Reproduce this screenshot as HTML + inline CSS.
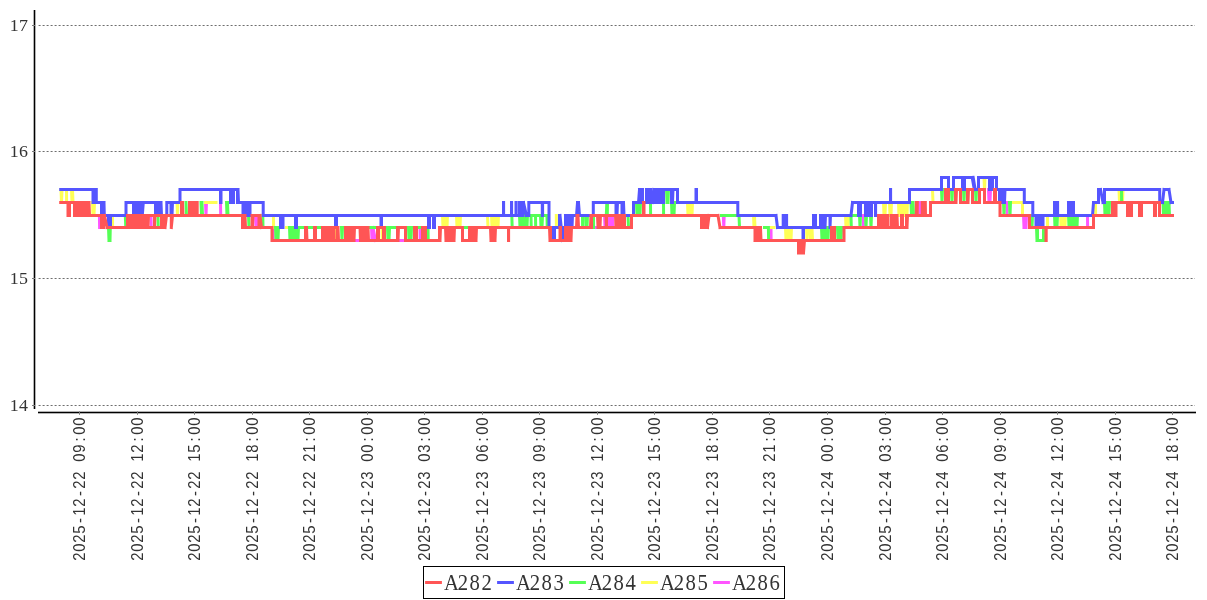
<!DOCTYPE html>
<html lang="en">
<head>
<meta charset="utf-8">
<title>Chart</title>
<style>
html,body{margin:0;padding:0;background:#fff;}
body{width:1207px;height:600px;overflow:hidden;}
svg{display:block;}
.yl{font-family:"Liberation Serif",serif;font-size:16px;fill:#333;}
.xl{font-family:"Liberation Sans",sans-serif;font-size:15.8px;fill:#333;}
.lg{font-family:"Liberation Serif",serif;font-size:23px;fill:#333;}
</style>
</head>
<body>
<svg width="1207" height="600" viewBox="0 0 1207 600">
<rect width="1207" height="600" fill="#fff"/>
<g stroke="#6e6e6e" stroke-width="1" stroke-dasharray="2 2" stroke-dashoffset="-0.6">
<line x1="38" x2="1195" y1="25.5" y2="25.5"/>
<line x1="38" x2="1195" y1="151.5" y2="151.5"/>
<line x1="38" x2="1195" y1="278.5" y2="278.5"/>
<line x1="38" x2="1195" y1="405.5" y2="405.5"/>
</g>
<path d="M99.4 215.5L99.6 227.5M151 215.5L151.2 227.5M205.5 202.5L206 215.5M206 215.5L206.5 202.5M220.5 202.5L220.7 215.5M255.5 215.5L256 227.5M256 227.5L256.5 215.5M256.5 215.5L257 227.5M273 227.5L273.2 240.5M356 240.5L358.5 240.5M371.5 227.5L372 240.5M372 240.5L372.5 227.5M372.5 227.5L373 240.5M373 240.5L373 227.5M373 227.5L375.5 240.5M375.5 240.5L375.6 240.5M400 240.5L404 240.5M420 227.5L420.2 240.5M594 227.5L597 227.5M604.5 215.5L605 227.5M605 227.5L605.5 215.5M605.5 215.5L606 227.5M608.5 215.5L609 227.5M609 227.5L609.5 215.5M609.5 215.5L610 227.5M610 227.5L610.5 215.5M610.5 215.5L611 227.5M611 227.5L611.5 215.5M611.5 215.5L612 227.5M612 227.5L612.5 215.5M612.5 215.5L613 227.5M723.3 215.5L723.8 227.5M723.8 227.5L724.2 215.5M771 227.5L771.1 240.5M863.2 215.5L863.3 227.5M919.5 202.5L920 215.5M988.5 189.5L989 202.5M989 202.5L989.5 189.5M989.5 189.5L990 202.5M990 202.5L990.5 189.5M1007 202.5L1007.1 215.5M1023.5 215.5L1024 227.5M1024 227.5L1024.5 215.5M1024.5 215.5L1025 227.5M1025 227.5L1025.5 215.5M1025.5 215.5L1026 227.5M1026 227.5L1026.5 215.5M1087.5 215.5L1087.6 227.5" fill="none" stroke="#ff55ff" stroke-width="3" stroke-linecap="square"/>
<path d="M61 189.5L61.5 202.5M61.5 202.5L62 189.5M66.5 189.5L66.6 202.5M71.5 189.5L72 202.5M72 202.5L72.5 189.5M72.5 189.5L73 202.5M92.5 202.5L93 215.5M93 215.5L93.5 202.5M93.5 202.5L94 215.5M94 215.5L94.5 202.5M112.5 215.5L112.6 227.5M177 202.5L177.5 215.5M177.5 215.5L178 202.5M205.5 202.5L216 202.5M273.4 215.5L273.6 227.5M286.5 227.5L286.6 227.5M335.9 227.5L336.1 240.5M382 227.5L382.2 240.5M442.5 215.5L443 227.5M443 227.5L443.5 215.5M443.5 215.5L444 227.5M444 227.5L444.5 215.5M444.5 215.5L445 227.5M445 227.5L445.5 215.5M445.5 215.5L446 227.5M446 227.5L446.5 215.5M446.5 215.5L447 227.5M447 227.5L447.5 215.5M456.5 215.5L457 227.5M457 227.5L457.5 215.5M457.5 215.5L458 227.5M458 227.5L458.5 215.5M458.5 215.5L459 227.5M459 227.5L459.5 215.5M459.5 215.5L460 227.5M460 227.5L460.5 215.5M487.5 215.5L488 227.5M491.5 215.5L492 227.5M492 227.5L492.5 215.5M492.5 215.5L493 227.5M493 227.5L493.5 215.5M493.5 215.5L494 227.5M494 227.5L494.5 215.5M494.5 215.5L495 227.5M495 227.5L495.5 215.5M495.5 215.5L496 227.5M496 227.5L496.5 215.5M496.5 215.5L497 227.5M497 227.5L497.5 215.5M497.5 215.5L498 227.5M498 227.5L498.5 215.5M556.3 215.5L556.4 227.5M687.5 202.5L688 215.5M688 215.5L688.5 202.5M688.5 202.5L689 215.5M689 215.5L689.5 202.5M689.5 202.5L690 215.5M690 215.5L690.5 202.5M690.5 202.5L691 215.5M691 215.5L691.5 202.5M691.5 202.5L692 215.5M692 215.5L692.5 202.5M753.5 215.5L754 227.5M754 227.5L754.5 215.5M754.5 215.5L755 227.5M771.5 227.5L774 227.5M785.5 227.5L786 240.5M786 240.5L786.5 227.5M786.5 227.5L787 240.5M787 240.5L787.5 227.5M787.5 227.5L788 240.5M788 240.5L788.5 227.5M788.5 227.5L789 240.5M789 240.5L789.5 227.5M789.5 227.5L790 240.5M790 240.5L790.5 227.5M790.5 227.5L791 240.5M791 240.5L791.5 227.5M806.5 227.5L807 240.5M807 240.5L807.5 227.5M810 227.5L810.5 240.5M810.5 240.5L811 227.5M811 227.5L811.5 240.5M811.5 240.5L812 227.5M812 227.5L812.5 240.5M845.5 215.5L846 227.5M846 227.5L846.5 215.5M846.5 215.5L847 227.5M847 227.5L847.5 215.5M847.5 215.5L848 227.5M848 227.5L848.5 215.5M883.5 202.5L884 215.5M884 215.5L884.5 202.5M884.5 202.5L885 215.5M885 215.5L885.5 202.5M889.5 202.5L890 215.5M890 215.5L890.5 202.5M890.5 202.5L891 215.5M891 215.5L891.5 202.5M898.5 202.5L899 215.5M899 215.5L899.5 202.5M899.5 202.5L900 215.5M900 215.5L900.5 202.5M900.5 202.5L901 215.5M901 215.5L901.5 202.5M901.5 202.5L902 215.5M902 215.5L902.5 202.5M902.5 202.5L903 215.5M903 215.5L903.5 202.5M903.5 202.5L904 215.5M904 215.5L904.5 202.5M904.5 202.5L905 215.5M905 215.5L905.5 202.5M905.5 202.5L906 215.5M906 215.5L906.5 202.5M906.5 202.5L907 215.5M907 215.5L907.5 202.5M932.5 189.5L933 202.5M984 177.5L984.5 189.5M984.5 189.5L985 177.5M1013.5 202.5L1022.5 202.5M1022.5 202.5L1022.5 215.5M1022.5 215.5L1022.6 215.5M1047.5 215.5L1047.6 227.5M1060.5 215.5L1061 227.5M1061 227.5L1061.5 215.5M1061.5 215.5L1062 227.5M1062 227.5L1062.5 215.5M1062.5 215.5L1063 227.5M1063 227.5L1063.5 215.5M1063.5 215.5L1064 227.5M1064 227.5L1064.5 215.5M1064.5 215.5L1065 227.5M1065 227.5L1065.5 215.5M1095.5 202.5L1095.6 215.5M1119 189.5L1119.5 202.5M1119.5 202.5L1120 189.5M1120 189.5L1120.5 202.5M1120.5 202.5L1121 189.5M1121 189.5L1121.5 202.5M1121.5 202.5L1122 189.5M1122 189.5L1122.5 202.5M1122.5 202.5L1123 189.5" fill="none" stroke="#ffff55" stroke-width="3" stroke-linecap="square"/>
<path d="M108.5 227.5L109 240.5M109 240.5L109.5 227.5M109.5 227.5L110 240.5M110 240.5L110.3 227.5M125.3 215.5L125.8 227.5M158 215.5L158.2 227.5M186 202.5L186.5 215.5M201 202.5L201.5 215.5M201.5 215.5L202 202.5M202 202.5L202.5 215.5M226.5 202.5L227 215.5M227 215.5L227.5 202.5M227.5 202.5L228 215.5M248.5 215.5L249 227.5M262.8 215.5L263 227.5M275.5 227.5L276 240.5M276 240.5L276.5 227.5M276.5 227.5L277 240.5M277 240.5L277.5 227.5M277.5 227.5L278 240.5M278 240.5L278.5 227.5M289.5 227.5L290 240.5M290 240.5L290.5 227.5M290.5 227.5L291 240.5M291 240.5L291.5 227.5M291.5 227.5L292 240.5M292 240.5L292.5 227.5M292.5 227.5L293 240.5M293 240.5L293.5 227.5M293.5 227.5L294 240.5M294 240.5L294.5 227.5M294.5 227.5L295 240.5M295 240.5L295.5 227.5M295.5 227.5L296 240.5M296 240.5L296.5 227.5M296.5 227.5L297 240.5M297 240.5L297.5 227.5M297.5 227.5L298 240.5M298 240.5L298.5 227.5M298.5 227.5L321 227.5M341.5 227.5L342 240.5M342 240.5L342.5 227.5M370 227.5L376 227.5M387.5 227.5L388 240.5M388 240.5L388.5 227.5M388.5 227.5L389 240.5M389 240.5L389.5 227.5M389.5 227.5L396 227.5M408.5 227.5L409 240.5M409 240.5L409.5 227.5M409.5 227.5L410 240.5M410 240.5L410.5 227.5M410.5 227.5L411 240.5M411 240.5L411.5 227.5M418 227.5L421 227.5M428 227.5L428.2 240.5M464 227.5L468 227.5M511.8 215.5L512.2 227.5M519.5 215.5L520 227.5M520 227.5L520.5 215.5M520.5 215.5L521 227.5M521 227.5L521.5 215.5M521.5 215.5L522 227.5M522 227.5L522.5 215.5M522.5 215.5L523 227.5M523 227.5L523.5 215.5M523.5 215.5L524 227.5M524 227.5L524.5 215.5M524.5 215.5L525 227.5M525 227.5L525.5 215.5M525.5 215.5L526 227.5M526 227.5L526.5 215.5M526.5 215.5L527 227.5M527 227.5L527.5 215.5M530 215.5L548 215.5M531 215.5L531.2 227.5M535.5 215.5L535.7 227.5M540.5 215.5L541 227.5M541 227.5L541.5 215.5M541.5 215.5L542 227.5M542 227.5L542.5 215.5M547 215.5L547.2 227.5M582.5 215.5L582.6 227.5M585.5 215.5L586 227.5M586 227.5L586.5 215.5M586.5 215.5L587 227.5M587 227.5L587.5 215.5M593.5 215.5L593.6 227.5M606.3 215.5L606.8 202.5M606.8 202.5L607.3 215.5M607.3 215.5L607.5 202.5M628 215.5L628.5 227.5M636.5 202.5L637 215.5M637 215.5L637.5 202.5M637.5 202.5L638 215.5M638 215.5L638.5 202.5M638.5 202.5L639 215.5M639 215.5L639.5 202.5M639.5 202.5L640 215.5M640 215.5L640.5 202.5M650.5 202.5L650.6 215.5M663.5 202.5L663.6 215.5M666.5 189.5L667 202.5M667 202.5L667.5 189.5M667.5 189.5L668 202.5M668 202.5L668.5 189.5M671.5 202.5L672 215.5M672 215.5L672.5 202.5M672.5 202.5L673 215.5M673 215.5L673.5 202.5M673.5 202.5L674 215.5M674 215.5L674.5 202.5M721.5 215.5L736 215.5M739 215.5L739.5 227.5M764.5 227.5L768.4 227.5M768.4 227.5L768.6 240.5M821.5 227.5L822 240.5M822 240.5L822.5 227.5M822.5 227.5L823 240.5M823 240.5L823.5 227.5M823.5 227.5L824 240.5M824 240.5L824.5 227.5M824.5 227.5L825 240.5M825 240.5L825.5 227.5M825.5 227.5L826 240.5M826 240.5L826.5 227.5M826.5 227.5L827 240.5M827 240.5L827.5 227.5M827.5 227.5L828 240.5M828 240.5L828.5 227.5M837.5 227.5L838 240.5M838 240.5L838.5 227.5M838.5 227.5L839 240.5M839 240.5L839.5 227.5M839.5 227.5L840 240.5M840 240.5L840.5 227.5M840.5 227.5L841 240.5M841 240.5L841.5 227.5M850 215.5L858 215.5M851 215.5L851.3 227.5M859.5 215.5L860 227.5M860 227.5L860.5 215.5M865.5 215.5L866 227.5M866 227.5L866.5 215.5M870.5 215.5L871 227.5M871 227.5L871.5 215.5M911 202.5L911.5 215.5M911.5 215.5L912 202.5M912 202.5L912.5 215.5M912.5 215.5L913 202.5M913 202.5L913.5 215.5M941.5 189.5L942 202.5M942 202.5L942.5 189.5M951.5 189.5L952 202.5M952 202.5L952.5 189.5M963.5 189.5L964 202.5M964 202.5L964.5 189.5M975.5 189.5L976 202.5M976 202.5L976.5 189.5M1003.5 202.5L1004 215.5M1004 215.5L1004.5 202.5M1009.5 202.5L1010 215.5M1010 215.5L1010.5 202.5M1031.5 215.5L1032 227.5M1032 227.5L1032.5 215.5M1036.5 227.5L1037 240.5M1037 240.5L1037.5 227.5M1037.5 227.5L1037.5 240.5M1037.5 240.5L1043.5 240.5M1043.5 240.5L1043.5 227.5M1043.5 227.5L1043.6 227.5M1054.5 215.5L1055 227.5M1055 227.5L1055.5 215.5M1055.5 215.5L1056 227.5M1056 227.5L1056.5 215.5M1056.5 215.5L1057 227.5M1057 227.5L1057.5 215.5M1068.5 215.5L1069 227.5M1069 227.5L1069.5 215.5M1069.5 215.5L1070 227.5M1070 227.5L1070.5 215.5M1070.5 215.5L1071 227.5M1071 227.5L1071.5 215.5M1071.5 215.5L1072 227.5M1072 227.5L1072.5 215.5M1072.5 215.5L1073 227.5M1073 227.5L1073.5 215.5M1073.5 215.5L1074 227.5M1074 227.5L1074.5 215.5M1074.5 215.5L1075 227.5M1075 227.5L1075.5 215.5M1075.5 215.5L1076 227.5M1076 227.5L1076.5 215.5M1076.5 215.5L1077 227.5M1077 227.5L1077.5 215.5M1104.5 202.5L1105 215.5M1105 215.5L1105.5 202.5M1105.5 202.5L1106 215.5M1106 215.5L1106.5 202.5M1106.5 202.5L1107 215.5M1107 215.5L1107.5 202.5M1107.5 202.5L1108 215.5M1108 215.5L1108.5 202.5M1108.5 202.5L1109 215.5M1109 215.5L1109.5 202.5M1121.5 189.5L1121.6 202.5M1163 202.5L1163.5 215.5M1163.5 215.5L1164 202.5M1164 202.5L1164.5 215.5M1164.5 215.5L1165 202.5M1165 202.5L1165.5 215.5M1165.5 215.5L1166 202.5M1166 202.5L1166.5 215.5M1166.5 215.5L1167 202.5M1167 202.5L1167.5 215.5M1167.5 215.5L1168 202.5M1168 202.5L1168.5 215.5M1168.5 215.5L1169 202.5M1169 202.5L1169.5 215.5" fill="none" stroke="#55ff55" stroke-width="3" stroke-linecap="square"/>
<path d="M60.7 189.5L93 189.5M93 189.5L93 202.5M93 202.5L93.5 189.5M93.5 189.5L94 202.5M94 202.5L94.5 189.5M94.5 189.5L95 202.5M95 202.5L95.5 189.5M95.5 189.5L96 202.5M96 202.5L96.3 189.5M96.3 189.5L96.3 202.5M96.3 202.5L101.5 202.5M101.5 202.5L101.5 215.5M101.5 215.5L102 202.5M102 202.5L102.5 215.5M102.5 215.5L103 202.5M103 202.5L103.5 215.5M103.5 215.5L104 202.5M104 202.5L104.3 215.5M104.3 215.5L108.5 215.5M108.5 215.5L108.5 227.5M108.5 227.5L110.5 227.5M110.5 227.5L110.5 215.5M110.5 215.5L126 215.5M126 215.5L126 202.5M126 202.5L133.5 202.5M133.5 202.5L133.5 215.5M133.5 215.5L134 202.5M134 202.5L134.5 215.5M134.5 215.5L135 202.5M135 202.5L135.5 215.5M135.5 215.5L136 202.5M136 202.5L136.5 215.5M136.5 215.5L137 202.5M137 202.5L137.5 215.5M137.5 215.5L138 202.5M138 202.5L138.5 215.5M138.5 215.5L139 202.5M139 202.5L139.5 215.5M139.5 215.5L140 202.5M140 202.5L140.5 215.5M140.5 215.5L141 202.5M141 202.5L141.5 215.5M141.5 215.5L142 202.5M142 202.5L142.3 215.5M142.3 215.5L143.3 202.5M143.3 202.5L155.5 202.5M155.5 202.5L155.5 215.5M155.5 215.5L156 202.5M156 202.5L156.5 215.5M156.5 215.5L157 202.5M157 202.5L157.5 215.5M157.5 215.5L158 202.5M158 202.5L158.5 215.5M158.5 215.5L159 202.5M159 202.5L159.5 215.5M159.5 215.5L160 202.5M160 202.5L160.5 215.5M160.5 215.5L161 202.5M161 202.5L161.5 215.5M161.5 215.5L166.8 215.5M166.8 215.5L166.8 202.5M166.8 202.5L171 202.5M171 202.5L171 215.5M171 215.5L171.5 202.5M171.5 202.5L172 215.5M172 215.5L172.5 202.5M172.5 202.5L180 202.5M180 202.5L180 189.5M180 189.5L220.5 189.5M220.5 189.5L220.5 202.5M220.5 202.5L221 202.5M221 202.5L221 189.5M221 189.5L230.5 189.5M230.5 189.5L230.5 202.5M230.5 202.5L231 189.5M231 189.5L231.5 202.5M231.5 202.5L232 189.5M232 189.5L232.5 202.5M232.5 202.5L233 189.5M233 189.5L233.5 202.5M233.5 202.5L233.5 189.5M233.5 189.5L237.5 189.5M237.5 189.5L237.5 202.5M237.5 202.5L238 189.5M238 189.5L238.5 202.5M238.5 202.5L243 202.5M243 202.5L243 215.5M243 215.5L243.5 202.5M243.5 202.5L244 215.5M244 215.5L244.5 202.5M244.5 202.5L245 215.5M245 215.5L245.5 202.5M245.5 202.5L246 215.5M246 215.5L246.5 202.5M246.5 202.5L247 215.5M247 215.5L247.5 202.5M247.5 202.5L248 215.5M248 215.5L248.5 202.5M248.5 202.5L249 215.5M249 215.5L249.5 202.5M249.5 202.5L250 215.5M250 215.5L250 202.5M250 202.5L263.2 202.5M263.2 202.5L263.2 215.5M263.2 215.5L280.5 215.5M280.5 215.5L280.5 227.5M280.5 227.5L283 227.5M283 227.5L283 215.5M283 215.5L295.5 215.5M295.5 215.5L295.5 227.5M295.5 227.5L296.5 227.5M296.5 227.5L296.5 215.5M296.5 215.5L335.5 215.5M335.5 215.5L335.5 227.5M335.5 227.5L336.5 227.5M336.5 227.5L336.5 215.5M336.5 215.5L381 215.5M381 215.5L381 227.5M381 227.5L381.5 227.5M381.5 227.5L381.5 215.5M381.5 215.5L428.5 215.5M428.5 215.5L428.5 227.5M428.5 227.5L429.5 227.5M429.5 227.5L429.5 215.5M429.5 215.5L433.5 215.5M433.5 215.5L433.5 227.5M433.5 227.5L434.5 227.5M434.5 227.5L434.5 215.5M434.5 215.5L503.5 215.5M503.5 215.5L503.5 202.5M503.5 202.5L503.6 202.5M503.6 202.5L503.6 215.5M503.6 215.5L511.5 215.5M511.5 215.5L511.5 202.5M511.5 202.5L511.6 202.5M511.6 202.5L511.6 215.5M511.6 215.5L516 215.5M516 215.5L516 202.5M516 202.5L516.2 202.5M516.2 202.5L516.2 215.5M516.2 215.5L519.5 215.5M519.5 215.5L519.5 202.5M519.5 202.5L520 215.5M520 215.5L520.5 202.5M520.5 202.5L521 215.5M521 215.5L521.5 202.5M521.5 202.5L522 215.5M522 215.5L522.5 202.5M522.5 202.5L523 215.5M523 215.5L523.5 202.5M523.5 202.5L526.5 215.5M526.5 215.5L528.8 215.5M528.8 215.5L528.8 202.5M528.8 202.5L542.3 202.5M542.3 202.5L542.3 215.5M542.3 215.5L542.6 215.5M542.6 215.5L542.6 202.5M542.6 202.5L549 202.5M549 202.5L549 227.5M549 227.5L553.5 227.5M553.5 227.5L553.5 240.5M553.5 240.5L554.5 240.5M554.5 240.5L554.5 227.5M554.5 227.5L559.5 227.5M559.5 227.5L559.5 215.5M559.5 215.5L560 215.5M560 215.5L562.5 240.5M562.5 240.5L563 240.5M563 240.5L563 227.5M563 227.5L565.5 227.5M565.5 227.5L565.5 215.5M565.5 215.5L566 227.5M566 227.5L566.5 215.5M566.5 215.5L567 227.5M567 227.5L567.5 215.5M567.5 215.5L568 227.5M568 227.5L568.5 215.5M568.5 215.5L569 227.5M569 227.5L569.5 215.5M569.5 215.5L570 227.5M570 227.5L570.5 215.5M570.5 215.5L571 227.5M571 227.5L571.5 215.5M571.5 215.5L572 227.5M572 227.5L572.5 215.5M572.5 215.5L576.5 215.5M576.5 215.5L577.5 202.5M577.5 202.5L578.5 202.5M578.5 202.5L579.5 215.5M579.5 215.5L593.3 215.5M593.3 215.5L593.3 202.5M593.3 202.5L616 202.5M616 202.5L616 215.5M616 215.5L616.5 202.5M616.5 202.5L617 215.5M617 215.5L617.5 202.5M617.5 202.5L619.5 202.5M619.5 202.5L622 202.5M622 202.5L622 215.5M622 215.5L622.5 202.5M622.5 202.5L623 215.5M623 215.5L623.5 202.5M623.5 202.5L624 215.5M624 215.5L633.5 215.5M633.5 215.5L633.5 202.5M633.5 202.5L638.5 202.5M638.5 202.5L639.5 189.5M639.5 189.5L640 202.5M640 202.5L640.5 189.5M640.5 189.5L641 202.5M641 202.5L641.5 189.5M641.5 189.5L642 202.5M642 202.5L642.5 189.5M642.5 189.5L642.5 202.5M642.5 202.5L646.5 202.5M646.5 202.5L646.5 189.5M646.5 189.5L647 202.5M647 202.5L647.5 189.5M647.5 189.5L648 202.5M648 202.5L648.5 189.5M648.5 189.5L649 202.5M649 202.5L649.5 189.5M649.5 189.5L650 202.5M650 202.5L650.5 189.5M650.5 189.5L650.5 202.5M650.5 202.5L652.2 202.5M652.2 202.5L653.7 189.5M653.7 189.5L654 189.5M654 189.5L654.5 202.5M654.5 202.5L655 189.5M655 189.5L655.5 202.5M655.5 202.5L656 189.5M656 189.5L656.5 202.5M656.5 202.5L657 189.5M657 189.5L657.5 202.5M657.5 202.5L658 189.5M658 189.5L658.5 202.5M658.5 202.5L659 189.5M659 189.5L659.5 202.5M659.5 202.5L660 189.5M660 189.5L660.5 202.5M660.5 202.5L661 189.5M661 189.5L661.5 202.5M661.5 202.5L662 189.5M662 189.5L662.5 202.5M662.5 202.5L663 189.5M663 189.5L663.5 202.5M663.5 202.5L663.5 189.5M663.5 189.5L671.5 189.5M671.5 189.5L671.5 202.5M671.5 202.5L672 189.5M672 189.5L672.5 202.5M672.5 202.5L673 189.5M673 189.5L677.5 189.5M677.5 189.5L677.5 202.5M677.5 202.5L696 202.5M696 202.5L696 189.5M696 189.5L696.5 189.5M696.5 189.5L696.5 202.5M696.5 202.5L737.8 202.5M737.8 202.5L737.8 215.5M737.8 215.5L776 215.5M776 215.5L777.5 227.5M777.5 227.5L783.2 227.5M783.2 227.5L783.2 215.5M783.2 215.5L783.4 215.5M783.4 215.5L783.4 227.5M783.4 227.5L786.4 227.5M786.4 227.5L786.4 215.5M786.4 215.5L786.6 215.5M786.6 215.5L786.6 227.5M786.6 227.5L803 227.5M803 227.5L803 240.5M803 240.5L803.5 240.5M803.5 240.5L803.5 227.5M803.5 227.5L813.5 227.5M813.5 227.5L813.5 215.5M813.5 215.5L814 227.5M814 227.5L814.5 215.5M814.5 215.5L815 227.5M815 227.5L815.5 215.5M815.5 215.5L815.5 227.5M815.5 227.5L820.5 227.5M820.5 227.5L820.5 215.5M820.5 215.5L821 227.5M821 227.5L821.5 215.5M821.5 215.5L822 227.5M822 227.5L822.5 215.5M822.5 215.5L823 227.5M823 227.5L823.5 215.5M823.5 215.5L824 227.5M824 227.5L824.5 215.5M824.5 215.5L825 227.5M825 227.5L825.5 215.5M825.5 215.5L830 215.5M830 215.5L830 227.5M830 227.5L830.5 215.5M830.5 215.5L851 215.5M851 215.5L852.5 202.5M852.5 202.5L858.5 202.5M858.5 202.5L858.5 215.5M858.5 215.5L859 202.5M859 202.5L859.5 215.5M859.5 215.5L860 202.5M860 202.5L860.5 215.5M860.5 215.5L860.5 202.5M860.5 202.5L865.5 202.5M865.5 202.5L865.5 215.5M865.5 215.5L866 202.5M866 202.5L866.5 215.5M866.5 215.5L867 202.5M867 202.5L867.5 215.5M867.5 215.5L868 202.5M868 202.5L868.5 215.5M868.5 215.5L869 202.5M869 202.5L869.5 215.5M869.5 215.5L870 202.5M870 202.5L870.5 215.5M870.5 215.5L871 202.5M871 202.5L871.5 215.5M871.5 215.5L871.5 202.5M871.5 202.5L875.5 202.5M875.5 202.5L875.5 215.5M875.5 215.5L875.6 215.5M875.6 215.5L875.6 202.5M875.6 202.5L890.5 202.5M890.5 202.5L890.5 189.5M890.5 189.5L890.6 189.5M890.6 189.5L890.6 202.5M890.6 202.5L909.5 202.5M909.5 202.5L909.5 189.5M909.5 189.5L941.5 189.5M941.5 189.5L941.5 177.5M941.5 177.5L948.5 177.5M948.5 177.5L948.5 189.5M948.5 189.5L953.5 189.5M953.5 189.5L953.5 177.5M953.5 177.5L962.5 177.5M962.5 177.5L962.5 189.5M962.5 189.5L963 177.5M963 177.5L963.5 189.5M963.5 189.5L964 177.5M964 177.5L964.5 189.5M964.5 189.5L964.5 177.5M964.5 177.5L972.2 177.5M972.2 177.5L974.3 189.5M974.3 189.5L978.5 189.5M978.5 189.5L978.5 177.5M978.5 177.5L989.5 177.5M989.5 177.5L989.5 189.5M989.5 189.5L992.5 189.5M992.5 189.5L992.5 177.5M992.5 177.5L996.5 177.5M996.5 177.5L996.5 189.5M996.5 189.5L999.5 189.5M999.5 189.5L999.5 202.5M999.5 202.5L1000 189.5M1000 189.5L1000.5 202.5M1000.5 202.5L1001 189.5M1001 189.5L1001.5 202.5M1001.5 202.5L1002 189.5M1002 189.5L1002.5 202.5M1002.5 202.5L1003 189.5M1003 189.5L1003.5 202.5M1003.5 202.5L1004 189.5M1004 189.5L1004.5 202.5M1004.5 202.5L1005 189.5M1005 189.5L1024.3 189.5M1024.3 189.5L1024.3 202.5M1024.3 202.5L1032.8 202.5M1032.8 202.5L1032.8 215.5M1032.8 215.5L1036 215.5M1036 215.5L1036 227.5M1036 227.5L1036.5 215.5M1036.5 215.5L1037 227.5M1037 227.5L1037.5 215.5M1037.5 215.5L1038 227.5M1038 227.5L1038.5 215.5M1038.5 215.5L1039 227.5M1039 227.5L1039.5 215.5M1039.5 215.5L1040 227.5M1040 227.5L1040.5 215.5M1040.5 215.5L1041 227.5M1041 227.5L1041.5 215.5M1041.5 215.5L1042 227.5M1042 227.5L1042.5 215.5M1042.5 215.5L1043 227.5M1043 227.5L1043 215.5M1043 215.5L1054.5 215.5M1054.5 215.5L1054.5 202.5M1054.5 202.5L1054.6 202.5M1054.6 202.5L1054.6 215.5M1054.6 215.5L1057.5 215.5M1057.5 215.5L1057.5 202.5M1057.5 202.5L1057.6 202.5M1057.6 202.5L1057.6 215.5M1057.6 215.5L1068.5 215.5M1068.5 215.5L1068.5 202.5M1068.5 202.5L1069 215.5M1069 215.5L1069.5 202.5M1069.5 202.5L1070 215.5M1070 215.5L1070.5 202.5M1070.5 202.5L1071 215.5M1071 215.5L1071.5 202.5M1071.5 202.5L1072 215.5M1072 215.5L1072.5 202.5M1072.5 202.5L1073 215.5M1073 215.5L1073.5 202.5M1073.5 202.5L1073.5 215.5M1073.5 215.5L1092.5 215.5M1092.5 215.5L1093.5 202.5M1093.5 202.5L1098.5 202.5M1098.5 202.5L1098.5 189.5M1098.5 189.5L1100.5 189.5M1100.5 189.5L1103 202.5M1103 202.5L1104.5 202.5M1104.5 202.5L1104.5 189.5M1104.5 189.5L1159.7 189.5M1159.7 189.5L1159.7 202.5M1159.7 202.5L1162.5 202.5M1162.5 202.5L1164 189.5M1164 189.5L1169 189.5M1169 189.5L1171 202.5M1171 202.5L1172.5 202.5M973.2 177.5L975.2 189.5M975.2 189.5L975.3 189.5" fill="none" stroke="#5555ff" stroke-width="3" stroke-linecap="square"/>
<path d="M60.7 202.5L68 202.5M68 202.5L68 215.5M68 215.5L69.5 215.5M69.5 215.5L69.5 202.5M69.5 202.5L74.5 202.5M74.5 202.5L74.5 215.5M74.5 215.5L75 202.5M75 202.5L75.5 215.5M75.5 215.5L76 202.5M76 202.5L76.5 215.5M76.5 215.5L77 202.5M77 202.5L77.5 215.5M77.5 215.5L78 202.5M78 202.5L78.5 215.5M78.5 215.5L79 202.5M79 202.5L79.5 215.5M79.5 215.5L80 202.5M80 202.5L80.5 215.5M80.5 215.5L81 202.5M81 202.5L81.5 215.5M81.5 215.5L82 202.5M82 202.5L82.5 215.5M82.5 215.5L83 202.5M83 202.5L83.5 215.5M83.5 215.5L84 202.5M84 202.5L84.5 215.5M84.5 215.5L85 202.5M85 202.5L85.5 215.5M85.5 215.5L86 202.5M86 202.5L86.5 215.5M86.5 215.5L87 202.5M87 202.5L87.5 215.5M87.5 215.5L88 202.5M88 202.5L88.5 215.5M88.5 215.5L89 202.5M89 202.5L89.5 215.5M89.5 215.5L101.5 215.5M101.5 215.5L101.5 227.5M101.5 227.5L102 215.5M102 215.5L102.5 227.5M102.5 227.5L103 215.5M103 215.5L103.5 227.5M103.5 227.5L103.5 215.5M103.5 215.5L104.5 215.5M104.5 215.5L107 227.5M107 227.5L127.5 227.5M127.5 227.5L127.5 215.5M127.5 215.5L128 227.5M128 227.5L128.5 215.5M128.5 215.5L129 227.5M129 227.5L129.5 215.5M129.5 215.5L130 227.5M130 227.5L130.5 215.5M130.5 215.5L131 227.5M131 227.5L131.5 215.5M131.5 215.5L132 227.5M132 227.5L132.5 215.5M132.5 215.5L133 227.5M133 227.5L133.5 215.5M133.5 215.5L134 227.5M134 227.5L134.5 215.5M134.5 215.5L135 227.5M135 227.5L135.5 215.5M135.5 215.5L136 227.5M136 227.5L136.5 215.5M136.5 215.5L137 227.5M137 227.5L137.5 215.5M137.5 215.5L138 227.5M138 227.5L138.5 215.5M138.5 215.5L139 227.5M139 227.5L139.5 215.5M139.5 215.5L140 227.5M140 227.5L140.5 215.5M140.5 215.5L141 227.5M141 227.5L141.5 215.5M141.5 215.5L142 227.5M142 227.5L142.5 215.5M142.5 215.5L143 227.5M143 227.5L143.5 215.5M143.5 215.5L144 227.5M144 227.5L144.5 215.5M144.5 215.5L145 227.5M145 227.5L145.5 215.5M145.5 215.5L146 227.5M146 227.5L146.5 215.5M146.5 215.5L147 227.5M147 227.5L147.5 215.5M147.5 215.5L148 227.5M148 227.5L148.5 215.5M148.5 215.5L154.5 215.5M154.5 215.5L154.5 227.5M154.5 227.5L155 215.5M155 215.5L161.5 215.5M161.5 215.5L161.5 227.5M161.5 227.5L162 215.5M162 215.5L162.5 227.5M162.5 227.5L163 215.5M163 215.5L163.5 227.5M163.5 227.5L164 215.5M164 215.5L164.5 227.5M164.5 227.5L165 215.5M165 215.5L165 227.5M165 227.5L166.5 215.5M166.5 215.5L171.3 215.5M171.3 215.5L171.3 227.5M171.3 227.5L172.5 215.5M172.5 215.5L181.5 215.5M181.5 215.5L181.5 202.5M181.5 202.5L182 215.5M182 215.5L182.5 202.5M182.5 202.5L183 215.5M183 215.5L189.5 215.5M189.5 215.5L189.5 202.5M189.5 202.5L190 215.5M190 215.5L190.5 202.5M190.5 202.5L191 215.5M191 215.5L191.5 202.5M191.5 202.5L192 215.5M192 215.5L192.5 202.5M192.5 202.5L193 215.5M193 215.5L193.5 202.5M193.5 202.5L194 215.5M194 215.5L194.5 202.5M194.5 202.5L195 215.5M195 215.5L195.5 202.5M195.5 202.5L196 215.5M196 215.5L196.5 202.5M196.5 202.5L197 215.5M197 215.5L197.2 202.5M197.2 202.5L197.2 215.5M197.2 215.5L242.5 215.5M242.5 215.5L242.5 227.5M242.5 227.5L243 215.5M243 215.5L243.5 227.5M243.5 227.5L244 215.5M244 215.5L244.5 227.5M244.5 227.5L245 215.5M245 215.5L245.5 227.5M245.5 227.5L252 227.5M252 227.5L252 215.5M252 215.5L252.5 227.5M252.5 227.5L253 215.5M253 215.5L259 215.5M259 215.5L259 227.5M259 227.5L259.5 215.5M259.5 215.5L260 227.5M260 227.5L260 215.5M260 215.5L261.5 227.5M261.5 227.5L272 227.5M272 227.5L272 240.5M272 240.5L305.5 240.5M305.5 240.5L305.5 227.5M305.5 227.5L306 240.5M306 240.5L306.5 227.5M306.5 227.5L307 240.5M307 240.5L314.5 240.5M314.5 240.5L314.5 227.5M314.5 227.5L315 240.5M315 240.5L315.5 227.5M315.5 227.5L315.5 240.5M315.5 240.5L322.5 240.5M322.5 240.5L322.5 227.5M322.5 227.5L323 240.5M323 240.5L323.5 227.5M323.5 227.5L324 240.5M324 240.5L324.5 227.5M324.5 227.5L325 240.5M325 240.5L325.5 227.5M325.5 227.5L326 240.5M326 240.5L326.5 227.5M326.5 227.5L327 240.5M327 240.5L327.5 227.5M327.5 227.5L328 240.5M328 240.5L328.5 227.5M328.5 227.5L329 240.5M329 240.5L329.5 227.5M329.5 227.5L330 240.5M330 240.5L330.5 227.5M330.5 227.5L331 240.5M331 240.5L331.5 227.5M331.5 227.5L332 240.5M332 240.5L332.5 227.5M332.5 227.5L333 240.5M333 240.5L333.5 227.5M333.5 227.5L333.7 240.5M333.7 240.5L337 240.5M337 240.5L337 227.5M337 227.5L337.5 240.5M337.5 240.5L338 227.5M338 227.5L338.5 240.5M338.5 240.5L345.5 240.5M345.5 240.5L345.5 227.5M345.5 227.5L346 240.5M346 240.5L346.5 227.5M346.5 227.5L347 240.5M347 240.5L347.5 227.5M347.5 227.5L348 240.5M348 240.5L348.5 227.5M348.5 227.5L349 240.5M349 240.5L349.5 227.5M349.5 227.5L350 240.5M350 240.5L350.5 227.5M350.5 227.5L351 240.5M351 240.5L351.5 227.5M351.5 227.5L352 240.5M352 240.5L352.5 227.5M352.5 227.5L353 240.5M353 240.5L353.5 227.5M353.5 227.5L354 240.5M354 240.5L354.5 227.5M354.5 227.5L360 227.5M360 227.5L360.5 240.5M360.5 240.5L361 227.5M361 227.5L361.5 240.5M361.5 240.5L362 227.5M362 227.5L362.5 240.5M362.5 240.5L363 227.5M363 227.5L363.5 240.5M363.5 240.5L364 227.5M364 227.5L364.5 240.5M364.5 240.5L365 227.5M365 227.5L365.5 240.5M365.5 240.5L366 227.5M366 227.5L366.5 240.5M366.5 240.5L367 227.5M367 227.5L367.5 240.5M367.5 240.5L368 227.5M368 227.5L368.5 240.5M368.5 240.5L377.5 240.5M377.5 240.5L377.5 227.5M377.5 227.5L378 240.5M378 240.5L378.5 227.5M378.5 227.5L378.5 240.5M378.5 240.5L383.5 240.5M383.5 240.5L383.5 227.5M383.5 227.5L384 240.5M384 240.5L384.5 227.5M384.5 227.5L384.5 240.5M384.5 240.5L397.5 240.5M397.5 240.5L397.5 227.5M397.5 227.5L398 240.5M398 240.5L398.5 227.5M398.5 227.5L405.5 227.5M405.5 227.5L405.5 240.5M405.5 240.5L414.5 240.5M414.5 240.5L414.5 227.5M414.5 227.5L415 240.5M415 240.5L415.5 227.5M415.5 227.5L416 240.5M416 240.5L416.5 227.5M416.5 227.5L416.5 240.5M416.5 240.5L422.5 240.5M422.5 240.5L422.5 227.5M422.5 227.5L423 240.5M423 240.5L423.5 227.5M423.5 227.5L424 240.5M424 240.5L424.5 227.5M424.5 227.5L425 240.5M425 240.5L425.5 227.5M425.5 227.5L425.5 240.5M425.5 240.5L439.5 240.5M439.5 240.5L439.5 227.5M439.5 227.5L440 240.5M440 240.5L440.5 227.5M440.5 227.5L445.5 227.5M445.5 227.5L446 240.5M446 240.5L446.5 227.5M446.5 227.5L447 240.5M447 240.5L447.5 227.5M447.5 227.5L448 240.5M448 240.5L448.5 227.5M448.5 227.5L449 240.5M449 240.5L449.5 227.5M449.5 227.5L450 240.5M450 240.5L450.5 227.5M450.5 227.5L451 240.5M451 240.5L451.5 227.5M451.5 227.5L452 240.5M452 240.5L452.5 227.5M452.5 227.5L453 240.5M453 240.5L453.5 227.5M453.5 227.5L454 240.5M454 240.5L454.5 227.5M454.5 227.5L462.5 227.5M462.5 227.5L462.5 240.5M462.5 240.5L469.5 240.5M469.5 240.5L469.5 227.5M469.5 227.5L470 240.5M470 240.5L470.5 227.5M470.5 227.5L471 240.5M471 240.5L471.5 227.5M471.5 227.5L472 240.5M472 240.5L472.5 227.5M472.5 227.5L473 240.5M473 240.5L473.5 227.5M473.5 227.5L474 240.5M474 240.5L474.5 227.5M474.5 227.5L475 240.5M475 240.5L475.5 227.5M475.5 227.5L476 240.5M476 240.5L476.5 227.5M476.5 227.5L490.5 227.5M490.5 227.5L491 240.5M491 240.5L491.5 227.5M491.5 227.5L492 240.5M492 240.5L492.5 227.5M492.5 227.5L493 240.5M493 240.5L493.5 227.5M493.5 227.5L494 240.5M494 240.5L494.5 227.5M494.5 227.5L495 240.5M495 240.5L495.5 227.5M495.5 227.5L508.5 227.5M508.5 227.5L508.5 240.5M508.5 240.5L508.6 240.5M508.6 240.5L508.6 227.5M508.6 227.5L549.5 227.5M549.5 227.5L550 240.5M550 240.5L550.5 227.5M550.5 227.5L550.5 240.5M550.5 240.5L560 240.5M560 240.5L560 227.5M560 227.5L560.5 227.5M560.5 227.5L560.5 240.5M560.5 240.5L565.5 240.5M565.5 240.5L565.5 227.5M565.5 227.5L566 240.5M566 240.5L566.5 227.5M566.5 227.5L567 240.5M567 240.5L567.5 227.5M567.5 227.5L568 240.5M568 240.5L568.5 227.5M568.5 227.5L569 240.5M569 240.5L569.5 227.5M569.5 227.5L570 240.5M570 240.5L570.5 227.5M570.5 227.5L571 240.5M571 240.5L571.5 227.5M571.5 227.5L576.5 227.5M576.5 227.5L577 215.5M577 215.5L577.5 227.5M577.5 227.5L578 215.5M578 215.5L578.5 227.5M578.5 227.5L590.5 227.5M590.5 227.5L591 215.5M591 215.5L591.5 227.5M591.5 227.5L591.5 215.5M591.5 215.5L597.5 215.5M597.5 215.5L598 227.5M598 227.5L598.5 215.5M598.5 215.5L599 227.5M599 227.5L599.5 215.5M599.5 215.5L600 227.5M600 227.5L600.5 215.5M600.5 215.5L606 215.5M606 215.5L606.5 227.5M606.5 227.5L606.5 215.5M606.5 215.5L615.5 215.5M615.5 215.5L616 227.5M616 227.5L616.5 215.5M616.5 215.5L617 227.5M617 227.5L617.5 215.5M617.5 215.5L618 227.5M618 227.5L618.5 215.5M618.5 215.5L619 227.5M619 227.5L619.5 215.5M619.5 215.5L620 227.5M620 227.5L620.5 215.5M620.5 215.5L621 227.5M621 227.5L621.5 215.5M621.5 215.5L622 227.5M622 227.5L622.5 215.5M622.5 215.5L623 227.5M623 227.5L623.5 215.5M623.5 215.5L624 227.5M624 227.5L624.5 215.5M624.5 215.5L624.5 227.5M624.5 227.5L631.5 227.5M631.5 227.5L631.5 215.5M631.5 215.5L643.5 215.5M643.5 215.5L643.5 202.5M643.5 202.5L644 202.5M644 202.5L644 215.5M644 215.5L701.5 215.5M701.5 215.5L701.5 227.5M701.5 227.5L702 215.5M702 215.5L702.5 227.5M702.5 227.5L703 215.5M703 215.5L703.5 227.5M703.5 227.5L704 215.5M704 215.5L704.5 227.5M704.5 227.5L705 215.5M705 215.5L705.5 227.5M705.5 227.5L706 215.5M706 215.5L706.5 227.5M706.5 227.5L707 215.5M707 215.5L707.5 227.5M707.5 227.5L709 215.5M709 215.5L718 215.5M718 215.5L720 227.5M720 227.5L755 227.5M755 227.5L755 240.5M755 240.5L755.5 227.5M755.5 227.5L756 240.5M756 240.5L756.5 227.5M756.5 227.5L757 240.5M757 240.5L757.5 227.5M757.5 227.5L758 240.5M758 240.5L758.5 227.5M758.5 227.5L759 240.5M759 240.5L759.5 227.5M759.5 227.5L760 240.5M760 240.5L760.5 227.5M760.5 227.5L761 240.5M761 240.5L798.5 240.5M798.5 240.5L798.5 253M798.5 253L799 240.5M799 240.5L799.5 253M799.5 253L800 240.5M800 240.5L800.5 253M800.5 253L801 240.5M801 240.5L801.5 253M801.5 253L802 240.5M802 240.5L802.5 253M802.5 253L803 240.5M803 240.5L803.5 253M803.5 253L804.5 240.5M804.5 240.5L831.5 240.5M831.5 240.5L831.5 227.5M831.5 227.5L832 240.5M832 240.5L832.5 227.5M832.5 227.5L833 240.5M833 240.5L833.5 227.5M833.5 227.5L834 240.5M834 240.5L834.5 227.5M834.5 227.5L834.5 240.5M834.5 240.5L844 240.5M844 240.5L844 227.5M844 227.5L878.5 227.5M878.5 227.5L878.5 215.5M878.5 215.5L879 227.5M879 227.5L879.5 215.5M879.5 215.5L880 227.5M880 227.5L880.5 215.5M880.5 215.5L881 227.5M881 227.5L881.5 215.5M881.5 215.5L882 227.5M882 227.5L882.5 215.5M882.5 215.5L883 227.5M883 227.5L883.5 215.5M883.5 215.5L884 227.5M884 227.5L884.5 215.5M884.5 215.5L885 227.5M885 227.5L885.5 215.5M885.5 215.5L886 227.5M886 227.5L886.5 215.5M886.5 215.5L887 227.5M887 227.5L887.5 215.5M887.5 215.5L887.5 227.5M887.5 227.5L891 227.5M891 227.5L891 215.5M891 215.5L891.5 227.5M891.5 227.5L892 215.5M892 215.5L892.5 227.5M892.5 227.5L893 215.5M893 215.5L893.5 227.5M893.5 227.5L894 215.5M894 215.5L894.5 227.5M894.5 227.5L895 215.5M895 215.5L895.5 227.5M895.5 227.5L896 215.5M896 215.5L896.5 227.5M896.5 227.5L897 215.5M897 215.5L897.5 227.5M897.5 227.5L901.5 227.5M901.5 227.5L901.5 215.5M901.5 215.5L902 227.5M902 227.5L902.5 215.5M902.5 215.5L902.5 227.5M902.5 227.5L906.5 227.5M906.5 227.5L906.5 215.5M906.5 215.5L907 227.5M907 227.5L907.5 215.5M907.5 215.5L916.3 215.5M916.3 215.5L916.3 202.5M916.3 202.5L916.8 215.5M916.8 215.5L917.3 202.5M917.3 202.5L917.3 215.5M917.3 215.5L922.3 215.5M922.3 215.5L922.3 202.5M922.3 202.5L922.8 215.5M922.8 215.5L923.3 202.5M923.3 202.5L923.8 215.5M923.8 215.5L924.3 202.5M924.3 202.5L924.8 215.5M924.8 215.5L925.3 202.5M925.3 202.5L925.5 215.5M925.5 215.5L930.5 215.5M930.5 215.5L930.5 202.5M930.5 202.5L945.5 202.5M945.5 202.5L945.5 189.5M945.5 189.5L946 202.5M946 202.5L946.5 189.5M946.5 189.5L947 202.5M947 202.5L947.5 189.5M947.5 189.5L948 202.5M948 202.5L948.5 189.5M948.5 189.5L948.5 202.5M948.5 202.5L955.5 202.5M955.5 202.5L955.5 189.5M955.5 189.5L956 202.5M956 202.5L956.5 189.5M956.5 189.5L960.5 189.5M960.5 189.5L960.5 202.5M960.5 202.5L967.5 202.5M967.5 202.5L967.5 189.5M967.5 189.5L968 202.5M968 202.5L968.5 189.5M968.5 189.5L972.5 189.5M972.5 189.5L972.5 202.5M972.5 202.5L979.5 202.5M979.5 202.5L979.5 189.5M979.5 189.5L984.5 189.5M984.5 189.5L984.5 202.5M984.5 202.5L994.5 202.5M994.5 202.5L994.5 189.5M994.5 189.5L995 202.5M995 202.5L995.5 189.5M995.5 189.5L995.5 202.5M995.5 202.5L1000 202.5M1000 202.5L1000 215.5M1000 215.5L1029.5 215.5M1029.5 215.5L1029.5 227.5M1029.5 227.5L1046 227.5M1046 227.5L1046 240.5M1046 240.5L1046.2 240.5M1046.2 240.5L1046.2 227.5M1046.2 227.5L1093.5 227.5M1093.5 227.5L1093.5 215.5M1093.5 215.5L1112.5 215.5M1112.5 215.5L1112.5 202.5M1112.5 202.5L1113 215.5M1113 215.5L1113.5 202.5M1113.5 202.5L1114 215.5M1114 215.5L1114.5 202.5M1114.5 202.5L1115 215.5M1115 215.5L1115.5 202.5M1115.5 202.5L1116 215.5M1116 215.5L1116 202.5M1116 202.5L1127.5 202.5M1127.5 202.5L1127.5 215.5M1127.5 215.5L1128 202.5M1128 202.5L1128.5 215.5M1128.5 215.5L1129 202.5M1129 202.5L1129.5 215.5M1129.5 215.5L1130 202.5M1130 202.5L1130.5 215.5M1130.5 215.5L1131 202.5M1131 202.5L1131.5 215.5M1131.5 215.5L1131.5 202.5M1131.5 202.5L1139.5 202.5M1139.5 202.5L1139.5 215.5M1139.5 215.5L1140 202.5M1140 202.5L1140.5 215.5M1140.5 215.5L1141 202.5M1141 202.5L1141.5 215.5M1141.5 215.5L1141.5 202.5M1141.5 202.5L1154.5 202.5M1154.5 202.5L1154.5 215.5M1154.5 215.5L1155 202.5M1155 202.5L1155.5 215.5M1155.5 215.5L1155.5 202.5M1155.5 202.5L1159.5 202.5M1159.5 202.5L1159.5 215.5M1159.5 215.5L1172.5 215.5M148.5 227.5L154.5 227.5M155 227.5L161.5 227.5M253 227.5L259 227.5M333.7 227.5L337 227.5M378.5 227.5L383.5 227.5M600.5 227.5L606 227.5M606.5 227.5L615.5 227.5" fill="none" stroke="#ff5555" stroke-width="3" stroke-linecap="square"/>
<rect x="33.7" y="10" width="1.6" height="399" fill="#000"/>
<rect x="38" y="411.7" width="1158" height="1.6" fill="#000"/>
<g class="yl">
<rect x="32" y="25" width="3" height="1" fill="#7a7a7a"/>
<text transform="translate(0 31.4) scale(1.12 1)" x="12.7 20.9" text-anchor="middle">17</text>
<rect x="32" y="151" width="3" height="1" fill="#7a7a7a"/>
<text transform="translate(0 157.4) scale(1.12 1)" x="12.7 20.9" text-anchor="middle">16</text>
<rect x="32" y="278" width="3" height="1" fill="#7a7a7a"/>
<text transform="translate(0 284.4) scale(1.12 1)" x="12.7 20.9" text-anchor="middle">15</text>
<rect x="32" y="405" width="3" height="1" fill="#7a7a7a"/>
<text transform="translate(0 411.4) scale(1.12 1)" x="12.7 20.9" text-anchor="middle">14</text>
</g>
<g class="xl" text-anchor="middle">
<rect x="79" y="411.3" width="1" height="3.5" fill="#7a7a7a"/>
<text transform="translate(85.3 561) rotate(-90) scale(0.94 1)" x="4.79 14.36 23.94 33.51 43.09 52.66 62.23 71.81 81.38 90.96 100.53 110.11 119.68 129.26 138.83 148.4" xml:space="preserve">2025-12-22 09:00</text>
<rect x="137" y="411.3" width="1" height="3.5" fill="#7a7a7a"/>
<text transform="translate(143.3 561) rotate(-90) scale(0.94 1)" x="4.79 14.36 23.94 33.51 43.09 52.66 62.23 71.81 81.38 90.96 100.53 110.11 119.68 129.26 138.83 148.4" xml:space="preserve">2025-12-22 12:00</text>
<rect x="194" y="411.3" width="1" height="3.5" fill="#7a7a7a"/>
<text transform="translate(200.3 561) rotate(-90) scale(0.94 1)" x="4.79 14.36 23.94 33.51 43.09 52.66 62.23 71.81 81.38 90.96 100.53 110.11 119.68 129.26 138.83 148.4" xml:space="preserve">2025-12-22 15:00</text>
<rect x="252" y="411.3" width="1" height="3.5" fill="#7a7a7a"/>
<text transform="translate(258.3 561) rotate(-90) scale(0.94 1)" x="4.79 14.36 23.94 33.51 43.09 52.66 62.23 71.81 81.38 90.96 100.53 110.11 119.68 129.26 138.83 148.4" xml:space="preserve">2025-12-22 18:00</text>
<rect x="309" y="411.3" width="1" height="3.5" fill="#7a7a7a"/>
<text transform="translate(315.3 561) rotate(-90) scale(0.94 1)" x="4.79 14.36 23.94 33.51 43.09 52.66 62.23 71.81 81.38 90.96 100.53 110.11 119.68 129.26 138.83 148.4" xml:space="preserve">2025-12-22 21:00</text>
<rect x="367" y="411.3" width="1" height="3.5" fill="#7a7a7a"/>
<text transform="translate(373.3 561) rotate(-90) scale(0.94 1)" x="4.79 14.36 23.94 33.51 43.09 52.66 62.23 71.81 81.38 90.96 100.53 110.11 119.68 129.26 138.83 148.4" xml:space="preserve">2025-12-23 00:00</text>
<rect x="424" y="411.3" width="1" height="3.5" fill="#7a7a7a"/>
<text transform="translate(430.3 561) rotate(-90) scale(0.94 1)" x="4.79 14.36 23.94 33.51 43.09 52.66 62.23 71.81 81.38 90.96 100.53 110.11 119.68 129.26 138.83 148.4" xml:space="preserve">2025-12-23 03:00</text>
<rect x="482" y="411.3" width="1" height="3.5" fill="#7a7a7a"/>
<text transform="translate(488.3 561) rotate(-90) scale(0.94 1)" x="4.79 14.36 23.94 33.51 43.09 52.66 62.23 71.81 81.38 90.96 100.53 110.11 119.68 129.26 138.83 148.4" xml:space="preserve">2025-12-23 06:00</text>
<rect x="539" y="411.3" width="1" height="3.5" fill="#7a7a7a"/>
<text transform="translate(545.3 561) rotate(-90) scale(0.94 1)" x="4.79 14.36 23.94 33.51 43.09 52.66 62.23 71.81 81.38 90.96 100.53 110.11 119.68 129.26 138.83 148.4" xml:space="preserve">2025-12-23 09:00</text>
<rect x="597" y="411.3" width="1" height="3.5" fill="#7a7a7a"/>
<text transform="translate(603.3 561) rotate(-90) scale(0.94 1)" x="4.79 14.36 23.94 33.51 43.09 52.66 62.23 71.81 81.38 90.96 100.53 110.11 119.68 129.26 138.83 148.4" xml:space="preserve">2025-12-23 12:00</text>
<rect x="654" y="411.3" width="1" height="3.5" fill="#7a7a7a"/>
<text transform="translate(660.3 561) rotate(-90) scale(0.94 1)" x="4.79 14.36 23.94 33.51 43.09 52.66 62.23 71.81 81.38 90.96 100.53 110.11 119.68 129.26 138.83 148.4" xml:space="preserve">2025-12-23 15:00</text>
<rect x="712" y="411.3" width="1" height="3.5" fill="#7a7a7a"/>
<text transform="translate(718.3 561) rotate(-90) scale(0.94 1)" x="4.79 14.36 23.94 33.51 43.09 52.66 62.23 71.81 81.38 90.96 100.53 110.11 119.68 129.26 138.83 148.4" xml:space="preserve">2025-12-23 18:00</text>
<rect x="769" y="411.3" width="1" height="3.5" fill="#7a7a7a"/>
<text transform="translate(775.3 561) rotate(-90) scale(0.94 1)" x="4.79 14.36 23.94 33.51 43.09 52.66 62.23 71.81 81.38 90.96 100.53 110.11 119.68 129.26 138.83 148.4" xml:space="preserve">2025-12-23 21:00</text>
<rect x="827" y="411.3" width="1" height="3.5" fill="#7a7a7a"/>
<text transform="translate(833.3 561) rotate(-90) scale(0.94 1)" x="4.79 14.36 23.94 33.51 43.09 52.66 62.23 71.81 81.38 90.96 100.53 110.11 119.68 129.26 138.83 148.4" xml:space="preserve">2025-12-24 00:00</text>
<rect x="885" y="411.3" width="1" height="3.5" fill="#7a7a7a"/>
<text transform="translate(891.3 561) rotate(-90) scale(0.94 1)" x="4.79 14.36 23.94 33.51 43.09 52.66 62.23 71.81 81.38 90.96 100.53 110.11 119.68 129.26 138.83 148.4" xml:space="preserve">2025-12-24 03:00</text>
<rect x="942" y="411.3" width="1" height="3.5" fill="#7a7a7a"/>
<text transform="translate(948.3 561) rotate(-90) scale(0.94 1)" x="4.79 14.36 23.94 33.51 43.09 52.66 62.23 71.81 81.38 90.96 100.53 110.11 119.68 129.26 138.83 148.4" xml:space="preserve">2025-12-24 06:00</text>
<rect x="1000" y="411.3" width="1" height="3.5" fill="#7a7a7a"/>
<text transform="translate(1006.3 561) rotate(-90) scale(0.94 1)" x="4.79 14.36 23.94 33.51 43.09 52.66 62.23 71.81 81.38 90.96 100.53 110.11 119.68 129.26 138.83 148.4" xml:space="preserve">2025-12-24 09:00</text>
<rect x="1057" y="411.3" width="1" height="3.5" fill="#7a7a7a"/>
<text transform="translate(1063.3 561) rotate(-90) scale(0.94 1)" x="4.79 14.36 23.94 33.51 43.09 52.66 62.23 71.81 81.38 90.96 100.53 110.11 119.68 129.26 138.83 148.4" xml:space="preserve">2025-12-24 12:00</text>
<rect x="1115" y="411.3" width="1" height="3.5" fill="#7a7a7a"/>
<text transform="translate(1121.3 561) rotate(-90) scale(0.94 1)" x="4.79 14.36 23.94 33.51 43.09 52.66 62.23 71.81 81.38 90.96 100.53 110.11 119.68 129.26 138.83 148.4" xml:space="preserve">2025-12-24 15:00</text>
<rect x="1172" y="411.3" width="1" height="3.5" fill="#7a7a7a"/>
<text transform="translate(1178.3 561) rotate(-90) scale(0.94 1)" x="4.79 14.36 23.94 33.51 43.09 52.66 62.23 71.81 81.38 90.96 100.53 110.11 119.68 129.26 138.83 148.4" xml:space="preserve">2025-12-24 18:00</text>
</g>
<rect x="423.5" y="566.5" width="361" height="32" fill="#fff" stroke="#000" stroke-width="1"/>
<g class="lg" text-anchor="middle">
<rect x="425.1" y="581" width="16.8" height="3" fill="#ff5555"/>
<text transform="translate(445.1 590.3) scale(0.9 1)" x="7 19.89 33 46.11">A282</text>
<rect x="497.1" y="581" width="16.8" height="3" fill="#5555ff"/>
<text transform="translate(517.1 590.3) scale(0.9 1)" x="7 19.89 33 46.11">A283</text>
<rect x="569.1" y="581" width="16.8" height="3" fill="#55ff55"/>
<text transform="translate(589.1 590.3) scale(0.9 1)" x="7 19.89 33 46.11">A284</text>
<rect x="641.1" y="581" width="16.8" height="3" fill="#ffff55"/>
<text transform="translate(661.1 590.3) scale(0.9 1)" x="7 19.89 33 46.11">A285</text>
<rect x="713.1" y="581" width="16.8" height="3" fill="#ff55ff"/>
<text transform="translate(733.1 590.3) scale(0.9 1)" x="7 19.89 33 46.11">A286</text>
</g>
</svg>
</body>
</html>
